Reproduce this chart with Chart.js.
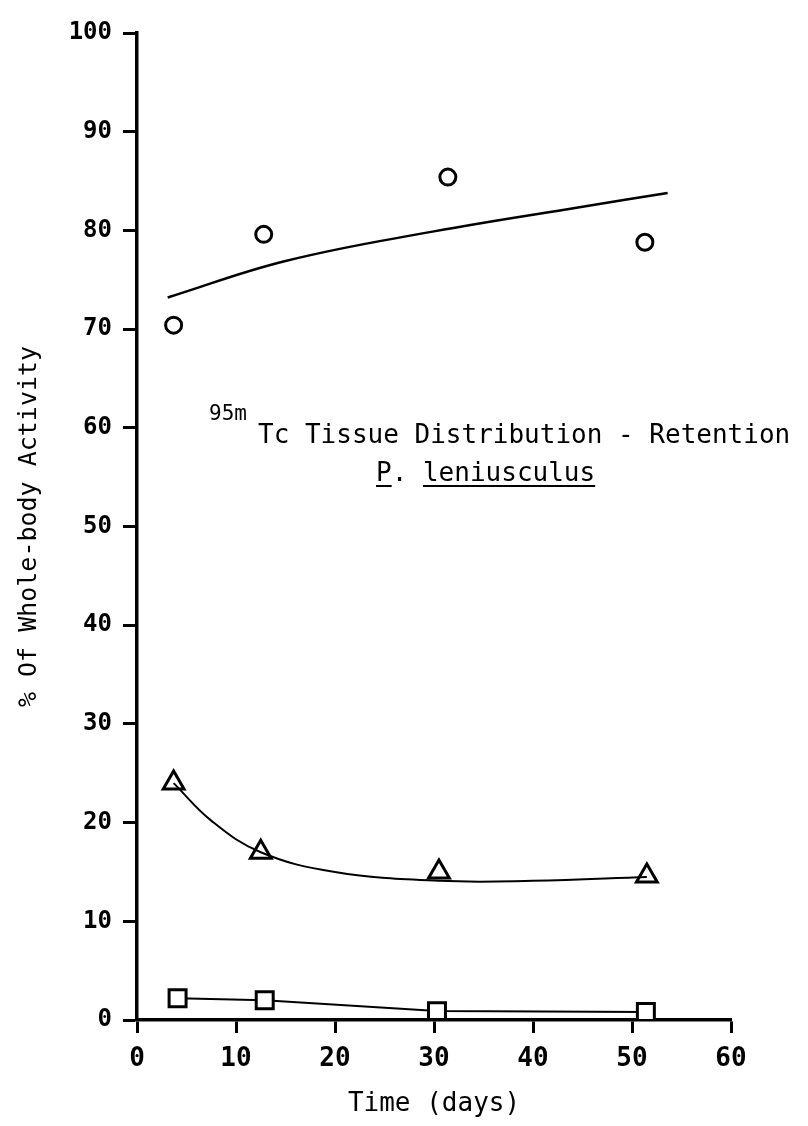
<!DOCTYPE html>
<html>
<head>
<meta charset="utf-8">
<title>95mTc Tissue Distribution - Retention</title>
<script src="https://cdn.jsdelivr.net/npm/chart.js@4.4.1/dist/chart.umd.min.js"></script>
<style>
  html, body { margin: 0; padding: 0; background: #fff; }
  canvas { display: block; }
</style>
</head>
<body>
<canvas id="chart" width="808" height="1126"></canvas>
<script>
// data (time in days, % of whole-body activity)
const xTicks = [0, 10, 20, 30, 40, 50, 60];
const yTicks = [0, 10, 20, 30, 40, 50, 60, 70, 80, 90, 100];

const circleDays = [3.7, 12.8, 31.4, 51.3];
const circleValues = [70.4, 79.6, 85.4, 78.8];
const circleFitDays = [3.1, 15.0, 30.0, 45.0, 53.6];
const circleFitValues = [73.2, 76.9, 79.9, 82.4, 83.8];

const triangleDays = [3.7, 12.5, 30.5, 51.5];
const triangleValues = [24.0, 17.0, 15.0, 14.6];
const triangleFitDays = [3.7, 7.5, 12.5, 20.0, 30.5, 40.0, 51.5];
const triangleFitValues = [24.0, 20.2, 17.0, 15.0, 14.1, 14.1, 14.5];

const squareDays = [4.1, 12.9, 30.3, 51.4];
const squareValues = [2.2, 2.0, 0.9, 0.8];

const MONO = "'DejaVu Sans Mono', 'Liberation Mono', monospace";

function toPoints(xs, ys) {
  return xs.map((x, i) => ({ x: x, y: ys[i] }));
}

// title text inside the plot area
const annotation = {
  id: 'annotation',
  afterDraw(chart) {
    const ctx = chart.ctx;
    ctx.save();
    ctx.fillStyle = '#000';
    ctx.strokeStyle = '#000';
    ctx.textBaseline = 'alphabetic';
    ctx.textAlign = 'left';

    ctx.font = '21px ' + MONO;
    ctx.fillText('95m', 209, 420);
    ctx.font = '26px ' + MONO;
    ctx.fillText('Tc Tissue Distribution - Retention', 258, 443);

    const x0 = 376;
    ctx.fillText('P.', x0, 481);
    const wP = ctx.measureText('P').width;
    const wPre = ctx.measureText('P. ').width;
    const wSp = ctx.measureText('leniusculus').width;
    ctx.fillText('leniusculus', x0 + wPre, 481);

    ctx.lineWidth = 2;
    ctx.beginPath();
    ctx.moveTo(x0, 486);
    ctx.lineTo(x0 + wP, 486);
    ctx.moveTo(x0 + wPre, 486);
    ctx.lineTo(x0 + wPre + wSp, 486);
    ctx.stroke();
    ctx.restore();
  }
};

const ctx = document.getElementById('chart').getContext('2d');
const chart = new Chart(ctx, {
  type: 'scatter',
  data: {
    datasets: [
      {
        label: 'circle fit',
        data: toPoints(circleFitDays, circleFitValues),
        showLine: true,
        tension: 0.4,
        borderColor: '#000',
        borderWidth: 2.5,
        pointRadius: 0
      },
      {
        label: 'circles',
        data: toPoints(circleDays, circleValues),
        pointStyle: 'circle',
        pointRadius: 8,
        pointBorderWidth: 3,
        pointBorderColor: '#000',
        pointBackgroundColor: 'rgba(0,0,0,0)'
      },
      {
        label: 'triangle fit',
        data: toPoints(triangleFitDays, triangleFitValues),
        showLine: true,
        tension: 0.4,
        borderColor: '#000',
        borderWidth: 2,
        pointRadius: 0
      },
      {
        label: 'triangles',
        data: toPoints(triangleDays, triangleValues),
        pointStyle: 'triangle',
        pointRadius: 12,
        pointBorderWidth: 3,
        pointBorderColor: '#000',
        pointBackgroundColor: '#fff'
      },
      {
        label: 'squares',
        data: toPoints(squareDays, squareValues),
        showLine: true,
        borderColor: '#000',
        borderWidth: 2,
        pointStyle: 'rect',
        pointRadius: 12,
        pointBorderWidth: 3,
        pointBorderColor: '#000',
        pointBackgroundColor: '#fff'
      }
    ]
  },
  plugins: [annotation],
  options: {
    responsive: false,
    animation: false,
    layout: { padding: { top: 33, right: 77, bottom: 0, left: 0 } },
    plugins: {
      legend: { display: false },
      tooltip: { enabled: false }
    },
    scales: {
      x: {
        type: 'linear',
        min: 0,
        max: 60,
        afterFit(scale) { scale.height = 106; },
        afterBuildTicks(scale) { scale.ticks = xTicks.map(v => ({ value: v })); },
        border: { color: '#000', width: 3.5 },
        grid: { drawOnChartArea: false, drawTicks: true, tickLength: 13, tickWidth: 3, tickColor: '#000' },
        ticks: {
          color: '#000',
          padding: 11,
          font: { family: MONO, size: 26, weight: 'bold' }
        },
        title: {
          display: true,
          text: 'Time (days)',
          color: '#000',
          padding: { top: 0, bottom: 6 },
          font: { family: MONO, size: 26 }
        }
      },
      y: {
        type: 'linear',
        min: 0,
        max: 100,
        afterFit(scale) { scale.width = 137; },
        afterBuildTicks(scale) { scale.ticks = yTicks.map(v => ({ value: v })); },
        border: { color: '#000', width: 3.5 },
        grid: { drawOnChartArea: false, drawTicks: true, tickLength: 14, tickWidth: 3, tickColor: '#000' },
        ticks: {
          color: '#000',
          padding: 11,
          font: { family: MONO, size: 24, weight: 'bold' }
        },
        title: {
          display: true,
          text: '% Of Whole-body Activity',
          color: '#000',
          padding: { top: 14, bottom: 0 },
          font: { family: MONO, size: 25 }
        }
      }
    }
  }
});
</script>
</body>
</html>
